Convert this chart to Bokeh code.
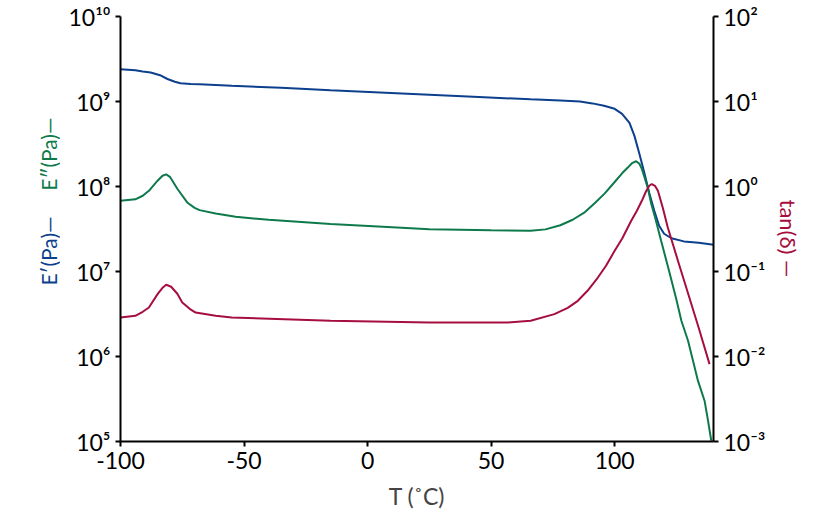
import math
from bokeh.plotting import figure
from bokeh.layouts import row
from bokeh.models import (Range1d, LogScale, LogAxis, FixedTicker,
                          CustomJSTickFormatter)
from bokeh.core.properties import value
from bokeh.embed import file_html
from bokeh.resources import INLINE

# ---- data ----
T_storage = [-100, -94, -91, -87.8, -84, -81, -78, -75.7, -71.6, -68,
             -55, -35, -15, 5, 25, 45, 66, 78, 86, 91,
             95.7, 100, 103, 106, 108, 110, 112, 114, 116, 118,
             120, 123, 128, 134, 140]
E_storage = [2.40e9, 2.33e9, 2.25e9, 2.19e9, 2.04e9, 1.84e9, 1.71e9, 1.64e9, 1.61e9, 1.60e9,
             1.53e9, 1.45e9, 1.36e9, 1.28e9, 1.20e9, 1.13e9, 1.06e9, 1.03e9, 1.0e9, 9.5e8,
             8.9e8, 8.2e8, 7.16e8, 5.61e8, 3.94e8, 2.43e8, 1.45e8, 8.4e7, 5.2e7, 3.45e7,
             2.78e7, 2.46e7, 2.26e7, 2.18e7, 2.06e7]

T_loss = [-100, -94, -91, -88.5, -85, -83, -81.5, -80, -77, -73,
          -70, -68, -61.5, -53.4, -40, -15, 10, 25, 50, 66,
          72, 78, 83, 88, 92, 96, 100, 103, 105.3, 107,
          108.7, 110, 111, 112.1, 113.5, 114.8, 116.5, 118.8, 122, 124.9,
          127, 129.7, 133.7, 136.4, 137.8, 139.1]
E_loss = [6.79e7, 7.06e7, 7.78e7, 8.9e7, 1.17e8, 1.34e8, 1.39e8, 1.30e8, 9.4e7, 6.49e7,
          5.61e7, 5.27e7, 4.81e7, 4.40e7, 4.06e7, 3.61e7, 3.31e7, 3.15e7, 3.05e7, 3.01e7,
          3.13e7, 3.50e7, 4.06e7, 5.0e7, 6.4e7, 8.3e7, 1.13e8, 1.43e8, 1.67e8, 1.88e8,
          1.98e8, 1.85e8, 1.61e8, 1.28e8, 9.4e7, 6.25e7, 4.17e7, 2.30e7, 1.02e7, 4.78e6,
          2.63e6, 1.53e6, 5.2e5, 3.0e5, 1.75e5, 1.02e5]

T_tan = [-100, -94, -91, -88.5, -85, -83, -81.5, -79.5, -77, -75,
         -72, -69.6, -61.5, -55, -15, 25, 56.7, 66, 75.6, 81,
         85.1, 89, 93.2, 96.5, 100, 103, 106.7, 109, 111, 112.7,
         114, 115, 116.3, 117.5, 119.5, 121.5, 125.6, 130, 134, 138.4]
tan_delta = [0.0288, 0.0301, 0.0336, 0.0377, 0.0542, 0.0643, 0.0698, 0.0661, 0.0547, 0.0432,
             0.0364, 0.0329, 0.0301, 0.0288, 0.0263, 0.0251, 0.0251, 0.0263, 0.0315, 0.0374,
             0.0452, 0.0593, 0.0849, 0.117, 0.175, 0.243, 0.395, 0.518, 0.679, 0.879,
             1.02, 1.07, 1.02, 0.889, 0.56, 0.330, 0.134, 0.0518, 0.0218, 0.00814]

x_ticks = [-100, -50, 0, 50, 100]
x_tick_labels = ["-100", "-50", "0", "50", "100"]
left_ticks = [1e5, 1e6, 1e7, 1e8, 1e9, 1e10]
right_ticks = [1e-3, 1e-2, 1e-1, 1e0, 1e1, 1e2]

left_titles = ["E′(Pa)—", "E″(Pa)—"]
right_title = "tan(δ) —"

BLUE = "#0c3f8c"
GREEN = "#0e7a4c"
RED = "#a50e3e"
FONT = "Lato"
FS = "23px"
FS_T = "21px"
H = 513


def side_figure(width):
    f = figure(width=width, height=H, x_range=Range1d(0, width), y_range=Range1d(0, H),
               output_backend="svg", toolbar_location=None,
               min_border=0, min_border_left=0, min_border_right=0,
               min_border_top=0, min_border_bottom=0)
    f.axis.visible = False
    f.grid.visible = False
    f.outline_line_color = None
    f.background_fill_color = "white"
    f.border_fill_color = "white"
    return f


# ---- left strip with the two coloured axis titles ----
pl = side_figure(60)
pl.text(x=[48], y=[H - 283], text=[left_titles[0]], angle=math.pi / 2,
        text_color=BLUE, text_font=value(FONT), text_font_size=FS_T,
        text_align="center", text_baseline="middle")
pl.text(x=[48], y=[H - 166], text=[left_titles[1]], angle=math.pi / 2,
        text_color=GREEN, text_font=value(FONT), text_font_size=FS_T,
        text_align="center", text_baseline="middle")

# ---- right strip with tan(δ) title ----
pr = side_figure(70)
pr.text(x=[18], y=[H - 268], text=[right_title], angle=-math.pi / 2,
        text_color=RED, text_font=value(FONT), text_font_size="22px",
        text_align="center", text_baseline="middle")

# ---- main chart ----
p = figure(width=710, height=H, x_range=Range1d(-100, 140),
           y_range=Range1d(1e5, 1e10), y_axis_type="log",
           output_backend="svg", toolbar_location=None,
           min_border_left=60, min_border_right=57,
           min_border_top=16, min_border_bottom=72)
p.extra_y_ranges = {"tan": Range1d(1e-3, 1e2)}
p.extra_y_scales = {"tan": LogScale()}

p.background_fill_color = "white"
p.border_fill_color = "white"
p.outline_line_color = None
p.grid.visible = False

sup_code = """
const sup = {"0":"\u2070","1":"\u00b9","2":"\u00b2","3":"\u00b3","4":"\u2074",
             "5":"\u2075","6":"\u2076","7":"\u2077","8":"\u2078","9":"\u2079","-":"\u207b"};
const e = Math.round(Math.log10(tick));
return "10" + String(e).split("").map(c => sup[c]).join("");
"""

p.line(T_storage, E_storage, line_color=BLUE, line_width=2)
p.line(T_loss, E_loss, line_color=GREEN, line_width=2)
p.line(T_tan, tan_delta, line_color=RED, line_width=2, y_range_name="tan")

right = LogAxis(y_range_name="tan")
p.add_layout(right, "right")

for ax in [p.xaxis[0], p.yaxis[0], right]:
    ax.axis_line_color = "black"
    ax.axis_line_width = 2
    ax.major_tick_line_color = "black"
    ax.major_tick_line_width = 2
    ax.major_tick_out = 5
    ax.major_tick_in = 0
    ax.minor_tick_line_color = None
    ax.major_label_text_font = FONT
    ax.major_label_text_font_size = FS
    ax.major_label_text_color = "black"
    ax.major_label_standoff = 5

p.xaxis[0].ticker = FixedTicker(ticks=x_ticks)
p.xaxis[0].major_label_overrides = dict(zip(x_ticks, x_tick_labels))
p.xaxis[0].axis_label = "T (˚C)"
p.xaxis[0].axis_label_text_font = FONT
p.xaxis[0].axis_label_text_font_size = FS
p.xaxis[0].axis_label_text_font_style = "normal"
p.xaxis[0].axis_label_standoff = 10

p.yaxis[0].ticker = FixedTicker(ticks=left_ticks)
p.yaxis[0].formatter = CustomJSTickFormatter(code=sup_code)
right.ticker = FixedTicker(ticks=right_ticks)
right.formatter = CustomJSTickFormatter(code=sup_code)

layout = row(pl, p, pr, spacing=0)
open("out.html", "w").write(file_html(layout, INLINE))
